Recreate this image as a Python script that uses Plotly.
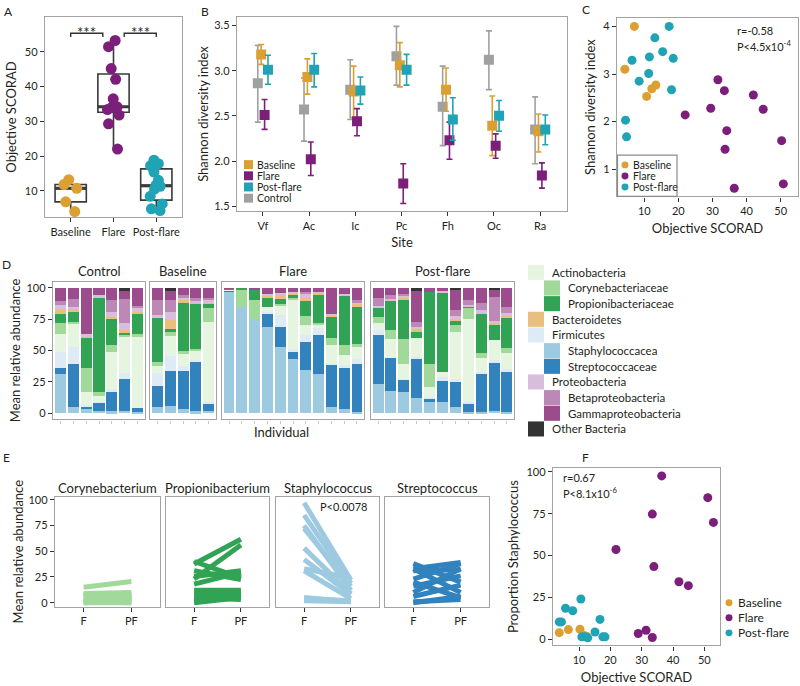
import statistics
import plotly.graph_objects as go

FONT = "Lato"
TXT = "#231F20"
BORDER = "#A3A3A3"
ORANGE = "#DBA031"
PURPLE = "#7B1F7A"
TEAL = "#21A3B6"
GRAY = "#A0A0A0"
W, H = 800, 686

# ---------------- Panel A data ----------------
a_groups = ["Baseline", "Flare", "Post-flare"]
a_baseline = [4.0, 6.8, 10.7, 11.8, 13.2]
a_flare = [22.0, 29.3, 31.8, 33.4, 34.0, 34.2, 36.5, 42.1, 45.2, 51.5, 53.3]
a_postflare = [4.3, 4.8, 6.2, 8.4, 10.5, 11.3, 11.6, 13.0, 15.4, 17.2, 17.8, 18.8]

# ---------------- Panel B data ----------------
sites = ["Vf", "Ac", "Ic", "Pc", "Fh", "Oc", "Ra"]
b_ctrl_mean = [2.86, 2.57, 2.79, 3.16, 2.60, 3.12, 2.35]
b_ctrl_lo = [2.43, 2.22, 2.46, 2.84, 2.17, 2.79, 1.97]
b_ctrl_hi = [3.28, 2.92, 3.12, 3.49, 3.05, 3.44, 2.71]
b_base_mean = [3.18, 2.93, 2.77, 3.06, 2.79, 2.39, 2.33]
b_base_lo = [3.07, 2.74, 2.48, 2.82, 2.55, 2.06, 2.10]
b_base_hi = [3.29, 3.13, 3.05, 3.31, 3.03, 2.72, 2.52]
b_flare_mean = [2.51, 2.02, 2.44, 1.75, 2.23, 2.17, 1.84]
b_flare_lo = [2.35, 1.84, 2.28, 1.53, 2.02, 2.03, 1.70]
b_flare_hi = [2.68, 2.21, 2.58, 1.97, 2.43, 2.30, 1.98]
b_post_mean = [3.01, 3.01, 2.78, 3.01, 2.46, 2.50, 2.35]
b_post_lo = [2.85, 2.82, 2.63, 2.84, 2.23, 2.33, 2.18]
b_post_hi = [3.17, 3.19, 2.93, 3.18, 2.70, 2.67, 2.51]

# ---------------- Panel C data ----------------
c_base_x = [7.1, 4.3, 13.4, 12.2, 10.7]
c_base_y = [4.0, 3.10, 2.77, 2.69, 2.53]
c_flare_x = [31.6, 33.5, 42.0, 44.9, 29.5, 22.0, 34.2, 33.7, 50.3, 36.4, 50.8]
c_flare_y = [2.88, 2.65, 2.56, 2.26, 2.28, 2.14, 1.81, 1.42, 1.60, 0.60, 0.69]
c_post_x = [17.3, 13.1, 6.4, 11.5, 15.4, 18.5, 11.3, 8.5, 18.0, 4.5, 4.8]
c_post_y = [4.0, 3.76, 3.29, 3.36, 3.47, 3.33, 3.01, 2.85, 2.67, 2.03, 1.68]

# ---------------- Panel D data ----------------
d_taxa = ["Staphylococcacea", "Streptococcaceae", "Firmicutes", "Actinobacteria",
          "Corynebacteriaceae", "Propionibacteriaceae", "Bacteroidetes",
          "Proteobacteria", "Betaproteobacteria", "Gammaproteobacteria", "Other Bacteria"]
d_colors = ["#9ECAE1", "#3182BD", "#DEEBF7", "#E5F5E0", "#A1D99B", "#31A354",
            "#E8BF7E", "#D8BEDD", "#BE88B6", "#9B4C8D", "#333333"]
d_groups = ["Control", "Baseline", "Flare", "Post-flare"]
# each row: one individual, values in d_taxa order (bottom to top)
d_control = [
    [31, 5, 13, 14, 9, 7, 4, 3, 3.5, 10.5, 0],
    [4.5, 34.5, 14, 19, 1, 8, 2.5, 1.5, 6, 9, 0],
    [3.5, 2, 1, 10, 19.5, 25, 0.5, 1.5, 0, 37, 0],
    [2, 6.5, 0.5, 5, 2.5, 76.5, 0, 1, 0, 6, 0],
    [1.5, 15.5, 2, 30, 5, 21.5, 1, 4.5, 9, 10, 0],
    [2, 25.5, 4.5, 29.5, 1, 2, 1.5, 6, 19, 6.4, 2.6],
    [1, 3, 0, 57, 2, 16.5, 1, 3, 2, 14.5, 0],
]
d_baseline = [
    [5, 17, 10, 5.5, 3, 36, 0.5, 1, 12.5, 9.5, 0],
    [5.5, 28, 12, 16, 3, 2.5, 7.5, 6, 9.5, 8.5, 1.5],
    [3.5, 30, 4, 10.5, 1.5, 39.5, 1, 2, 2, 6, 0],
    [1.5, 39, 2, 8, 0.5, 36.5, 1.5, 1, 1.5, 8.5, 0],
    [2, 6, 0.5, 64.5, 10.5, 4, 1, 1.5, 2, 8, 0],
]
d_flare = [
    [97.5, 1, 0, 0.5, 0, 0.5, 0, 0, 0, 0.5, 0],
    [85, 0, 0, 0, 14, 1, 0, 0, 0, 0, 0],
    [75, 0, 0, 0, 15, 9, 0, 0, 0, 1, 0],
    [69, 10, 2, 4, 0, 8, 1, 1, 0, 5, 0],
    [53, 16, 9, 8, 1, 4, 4, 1, 0, 4, 0],
    [43, 6, 2, 39, 2, 3, 0.5, 1, 0, 3.5, 0],
    [34, 23, 5, 8, 7.5, 13, 1.5, 3, 2, 3, 0],
    [31, 31, 7, 1, 2, 23, 1.5, 0.5, 0, 3, 0],
    [5, 33, 2, 14, 6, 17.5, 1, 0.5, 0, 21, 0],
    [3, 33, 2, 8, 8, 40, 0.5, 0.5, 0, 5, 0],
    [1, 38, 4, 10, 2, 30.5, 1.5, 2, 1, 10, 0],
]
d_postflare = [
    [23.5, 39, 3.5, 6, 5, 8, 0, 0.5, 6, 8.5, 0],
    [18, 26, 0, 15, 7, 24, 0, 1, 3, 6, 0],
    [16.5, 10.5, 0.5, 11.5, 20, 32, 1.5, 1.5, 1, 5, 0],
    [12, 32, 1, 15, 0, 5, 2, 2, 4, 25.5, 1.5],
    [9, 3, 1, 7.5, 19, 57, 0, 0, 0, 3.5, 0],
    [9, 17, 2.5, 4, 0, 64, 0, 1, 0, 2.5, 0],
    [4.5, 20, 2.5, 38, 5, 4.5, 1, 2, 4.5, 16, 2],
    [1, 6, 2, 66.5, 8, 2, 0, 1, 3.5, 10, 0],
    [1, 30, 2, 11, 4, 31, 0, 3, 5.5, 12.5, 0],
    [2, 38, 2.5, 16, 0, 12, 2, 1, 19, 5.5, 2],
    [1, 32.5, 1.5, 13, 4, 25, 1.5, 1, 5.5, 15, 0],
]
d_legend_order = ["Actinobacteria", "Corynebacteriaceae", "Propionibacteriaceae",
                  "Bacteroidetes", "Firmicutes", "Staphylococcacea", "Streptococcaceae",
                  "Proteobacteria", "Betaproteobacteria", "Gammaproteobacteria", "Other Bacteria"]
d_legend_indent = [0, 1, 1, 0, 0, 1, 1, 0, 1, 1, 0]

# ---------------- Panel E data ----------------
e_genera = ["Corynebacterium", "Propionibacterium", "Staphylococcus", "Streptococcus"]
e_colors = ["#A1D99B", "#31A354", "#9ECAE1", "#3182BD"]
e_timepoints = ["F", "PF"]
e_flare = [
    [15, 9, 8, 7, 6, 2, 2, 1, 1, 0, 0],
    [37.5, 23, 40, 31, 25.5, 18, 12, 8, 5, 2, 0],
    [97, 85, 75, 72, 53, 42, 33, 31, 5, 4, 2],
    [38, 33, 33, 31, 23, 16, 10, 6, 1, 0, 20],
]
e_postflare = [
    [20.5, 10, 8, 5, 7, 4, 4, 5, 0, 0, 2],
    [61.5, 56, 24, 22.5, 31, 29.5, 12, 10, 3, 8, 5],
    [22, 19, 12, 16, 9, 8, 24, 4, 1, 2, 1],
    [20, 39, 10, 32, 38, 26, 33, 17, 3, 6, 5],
]

# ---------------- Panel F data ----------------
f_base_x = [3.7, 6.6, 10.3, 11.4, 12.4]
f_base_y = [3.9, 5.7, 5.9, 2.4, 1.8]
f_flare_x = [36.4, 51.1, 52.9, 33.4, 21.8, 33.9, 41.9, 44.9, 28.9, 31.4, 33.4]
f_flare_y = [97.6, 84.6, 69.8, 74.8, 53.6, 43.4, 34.3, 32.0, 3.4, 5.3, 1.0]
f_post_x = [3.7, 4.4, 5.7, 8.0, 10.6, 16.7, 15.1, 10.9, 12.8, 17.6, 18.3, 12.0]
f_post_y = [10.3, 10.3, 18.5, 17.0, 24.0, 11.8, 4.3, 1.4, 0.8, 1.4, 1.4, 1.4]


def px(x):
    return x / W


def py(y):
    return 1 - y / H


def dom_x(a, b):
    return [px(a), px(b)]


def dom_y(top, bottom):
    return [py(bottom), py(top)]


def axstyle(domain, anchor, **kw):
    d = dict(domain=domain, anchor=anchor, showline=True, mirror=True, linecolor=BORDER,
             linewidth=1.4, ticks="outside", ticklen=4, tickwidth=1.3, tickcolor="#333",
             showgrid=False, zeroline=False,
             tickfont=dict(size=11, color=TXT, family=FONT))
    d.update(kw)
    return d


def title(text, standoff=None):
    t = dict(text=text, font=dict(size=13, color=TXT, family=FONT))
    if standoff is not None:
        t["standoff"] = standoff
    return t


fig = go.Figure()
layout = {}
annotations = []
shapes = []


def ann(x, y, text, size=11, xanchor="center", yanchor="middle", **kw):
    annotations.append(dict(x=px(x), y=py(y), xref="paper", yref="paper", text=text,
                            showarrow=False, xanchor=xanchor, yanchor=yanchor,
                            font=dict(size=size, color=TXT, family=FONT), **kw))


# ---------------- Panel A ----------------
BOX_W = 0.73
for gi, (name, vals, col) in enumerate(zip(a_groups, [a_baseline, a_flare, a_postflare],
                                           [ORANGE, PURPLE, TEAL])):
    fig.add_trace(go.Box(x=[name] * len(vals), y=vals, name=name, xaxis="x", yaxis="y",
                         boxpoints="all", jitter=0.5, pointpos=0, width=BOX_W,
                         fillcolor="rgba(0,0,0,0)", line=dict(color="#3a3a3a", width=1.6),
                         marker=dict(color=col, size=11, line=dict(width=0), opacity=1),
                         whiskerwidth=0, quartilemethod="inclusive", showlegend=False,
                         hoverinfo="skip"))
    med = statistics.median(vals)
    shapes.append(dict(type="line", xref="x", yref="y", x0=gi - BOX_W / 2, x1=gi + BOX_W / 2,
                       y0=med, y1=med, line=dict(color="#3a3a3a", width=3.2), layer="below"))
layout["xaxis"] = axstyle(dom_x(45, 182), "y", type="category", categoryorder="array",
                          categoryarray=a_groups, range=[-0.6, 2.6])
layout["yaxis"] = axstyle(dom_y(13, 215), "x", range=[2.4, 60.1], tickvals=[10, 20, 30, 40, 50],
                          title=title("Objective SCORAD", 5))
for x0, x1, xt in [(0, 0.75, 0.375), (1.25, 2, 1.625)]:
    shapes.append(dict(type="path", xref="x", yref="y",
                       path=f"M {x0},54.3 L {x0},55.4 L {x1},55.4 L {x1},54.3",
                       line=dict(color="#333", width=1.4)))
    annotations.append(dict(x=xt, y=55.4, xref="x", yref="y", text="***", showarrow=False,
                            yanchor="middle", yshift=1,
                            font=dict(size=15, color=TXT, family=FONT)))

# ---------------- Panel B ----------------
b_series = [
    ("Control", GRAY, b_ctrl_mean, b_ctrl_lo, b_ctrl_hi, -0.11),
    ("Baseline", ORANGE, b_base_mean, b_base_lo, b_base_hi, -0.037),
    ("Flare", PURPLE, b_flare_mean, b_flare_lo, b_flare_hi, 0.037),
    ("Post-flare", TEAL, b_post_mean, b_post_lo, b_post_hi, 0.11),
]
for name, col, m, lo, hi, off in b_series:
    fig.add_trace(go.Scatter(
        x=[i + off for i in range(len(sites))], y=m, mode="markers", name=name,
        xaxis="x2", yaxis="y2", showlegend=False, hoverinfo="skip",
        marker=dict(symbol="square", size=10, color=col),
        error_y=dict(type="data", symmetric=False,
                     array=[h - v for h, v in zip(hi, m)],
                     arrayminus=[v - l for v, l in zip(m, lo)],
                     color=col, thickness=1.6, width=3)))
layout["xaxis2"] = axstyle(dom_x(237, 567), "y2", range=[-0.56, 6.58],
                           tickvals=list(range(len(sites))), ticktext=sites,
                           title=title("Site", 7))
layout["yaxis2"] = axstyle(dom_y(13, 209), "x2", range=[1.445, 3.595],
                           tickvals=[1.5, 2.0, 2.5, 3.0, 3.5], tickformat=".1f",
                           title=title("Shannon diversity index", 2))
for i, (name, col) in enumerate([("Baseline", ORANGE), ("Flare", PURPLE),
                                  ("Post-flare", TEAL), ("Control", GRAY)]):
    yc = 162 + i * 11.3
    shapes.append(dict(type="rect", xref="paper", yref="paper", x0=px(244), x1=px(253),
                       y0=py(yc + 4.5), y1=py(yc - 4.5), fillcolor=col, line=dict(width=0)))
    ann(255, yc, name, size=10.5, xanchor="left")

# ---------------- Panel C ----------------
for name, col, xs, ys in [("Baseline", ORANGE, c_base_x, c_base_y),
                          ("Flare", PURPLE, c_flare_x, c_flare_y),
                          ("Post-flare", TEAL, c_post_x, c_post_y)]:
    fig.add_trace(go.Scatter(x=xs, y=ys, mode="markers", name=name, xaxis="x3", yaxis="y3",
                             showlegend=False, hoverinfo="skip",
                             marker=dict(size=9, color=col)))
layout["xaxis3"] = axstyle(dom_x(617, 798), "y3", range=[2.0, 55.1],
                           tickvals=[10, 20, 30, 40, 50], title=title("Objective SCORAD", 8))
layout["yaxis3"] = axstyle(dom_y(14, 194), "x3", range=[0.43, 4.18], tickvals=[1, 2, 3, 4],
                           title=title("Shannon diversity index", 4))
shapes.append(dict(type="rect", xref="paper", yref="paper", x0=px(617.5), x1=px(677),
                   y0=py(194), y1=py(152.5), fillcolor="white",
                   line=dict(color="#8a8a8a", width=1.2)))
for i, (name, col) in enumerate([("Baseline", ORANGE), ("Flare", PURPLE), ("Post-flare", TEAL)]):
    yc = 162.3 + i * 11.2
    shapes.append(dict(type="circle", xref="paper", yref="paper", x0=px(621.5), x1=px(628.5),
                       y0=py(yc + 3.5), y1=py(yc - 3.5), fillcolor=col, line=dict(width=0)))
    ann(631, yc, name, size=10.5, xanchor="left")
ann(735, 27, "r=-0.58", size=11, xanchor="left")
ann(735, 42, "P&lt;4.5x10<sup>-4</sup>", size=11, xanchor="left")

# ---------------- Panel D ----------------
d_data = [d_control, d_baseline, d_flare, d_postflare]
d_doms = [(53, 145), (150, 216), (222, 364), (371, 514)]
for gi, (gname, rows, (xa, xb)) in enumerate(zip(d_groups, d_data, d_doms)):
    k = 4 + gi
    n = len(rows)
    for ti, (taxon, col) in enumerate(zip(d_taxa, d_colors)):
        fig.add_trace(go.Bar(x=list(range(1, n + 1)), y=[r[ti] for r in rows], name=taxon,
                             xaxis=f"x{k}", yaxis=f"y{k}", width=0.85,
                             marker=dict(color=col, line=dict(width=0)),
                             showlegend=False, hoverinfo="skip"))
    layout[f"xaxis{k}"] = axstyle(dom_x(xa, xb), f"y{k}", range=[0.45, n + 0.55],
                                  tickvals=list(range(1, n + 1)), showticklabels=False,
                                  ticklen=3, tickcolor="#c8c8c8", tickwidth=1)
    yk = axstyle(dom_y(280, 419), f"x{k}", range=[-5, 105], tickvals=[0, 25, 50, 75, 100])
    if gi == 0:
        yk["title"] = title("Mean relative abundance", 2)
    else:
        yk.update(showticklabels=False, ticks="")
    layout[f"yaxis{k}"] = yk
    ann((xa + xb) / 2, 269, gname, size=13)
ann(281, 432, "Individual", size=13)
for i, (taxon, ind) in enumerate(zip(d_legend_order, d_legend_indent)):
    col = d_colors[d_taxa.index(taxon)]
    yc = 270.7 + i * 15.8
    x0 = 528 + 16 * ind
    shapes.append(dict(type="rect", xref="paper", yref="paper", x0=px(x0), x1=px(x0 + 16),
                       y0=py(yc + 7.6), y1=py(yc - 7.6), fillcolor=col, line=dict(width=0)))
    ann(x0 + 22, yc, taxon, size=11.5, xanchor="left")

# ---------------- Panel E ----------------
e_doms = [(55, 160), (166, 269), (276, 379), (385, 489)]
for gi, (gname, col, fv, pv, (xa, xb)) in enumerate(zip(e_genera, e_colors, e_flare,
                                                          e_postflare, e_doms)):
    k = 8 + gi
    for a, b in zip(fv, pv):
        fig.add_trace(go.Scatter(x=e_timepoints, y=[a, b], mode="lines", xaxis=f"x{k}",
                                 yaxis=f"y{k}", line=dict(color=col, width=5),
                                 showlegend=False, hoverinfo="skip"))
    layout[f"xaxis{k}"] = axstyle(dom_x(xa, xb), f"y{k}", type="category",
                                  categoryorder="array", categoryarray=e_timepoints,
                                  range=[-0.6, 1.6])
    yk = axstyle(dom_y(497, 608), f"x{k}", range=[-3.85, 102.9], tickvals=[0, 25, 50, 75, 100])
    if gi == 0:
        yk["title"] = title("Mean relative abundance", 1)
    else:
        yk.update(showticklabels=False, ticks="")
    layout[f"yaxis{k}"] = yk
    ann((xa + xb) / 2, 488, gname, size=13)
ann(343, 507, "P&lt;0.0078", size=11)

# ---------------- Panel F ----------------
for name, col, xs, ys in [("Baseline", ORANGE, f_base_x, f_base_y),
                          ("Flare", PURPLE, f_flare_x, f_flare_y),
                          ("Post-flare", TEAL, f_post_x, f_post_y)]:
    fig.add_trace(go.Scatter(x=xs, y=ys, mode="markers", name=name, xaxis="x12", yaxis="y12",
                             showlegend=False, hoverinfo="skip",
                             marker=dict(size=9, color=col)))
layout["xaxis12"] = axstyle(dom_x(553, 720), "y12", range=[1.7, 55.0],
                            tickvals=[10, 20, 30, 40, 50], title=title("Objective SCORAD", 8))
layout["yaxis12"] = axstyle(dom_y(468, 647), "x12", range=[-3.7, 102.4],
                            tickvals=[0, 25, 50, 75, 100],
                            title=title("Proportion Staphylococcus", 4))
for i, (name, col) in enumerate([("Baseline", ORANGE), ("Flare", PURPLE), ("Post-flare", TEAL)]):
    yc = 604 + i * 15.2
    shapes.append(dict(type="circle", xref="paper", yref="paper", x0=px(725.5), x1=px(732.5),
                       y0=py(yc + 3.5), y1=py(yc - 3.5), fillcolor=col, line=dict(width=0)))
    ann(736, yc, name, size=12, xanchor="left")
ann(561, 478, "r=0.67", size=11, xanchor="left")
ann(561, 493, "P&lt;8.1x10<sup>-6</sup>", size=11, xanchor="left")

# ---------------- Panel letters ----------------
for letter, x, y in [("A", 8, 8), ("B", 205, 8), ("C", 586, 6), ("D", 6, 263),
                     ("E", 6, 458), ("F", 585, 457)]:
    ann(x, y, letter, size=12)

fig.update_layout(
    width=W, height=H, margin=dict(l=0, r=0, t=0, b=0),
    paper_bgcolor="white", plot_bgcolor="white", barmode="stack",
    font=dict(family=FONT, color=TXT), showlegend=False,
    annotations=annotations, shapes=shapes, **layout)

fig.write_html("out.html", config={"displayModeBar": False},
               post_script="document.body.style.margin='0';document.body.style.overflow='hidden';")
